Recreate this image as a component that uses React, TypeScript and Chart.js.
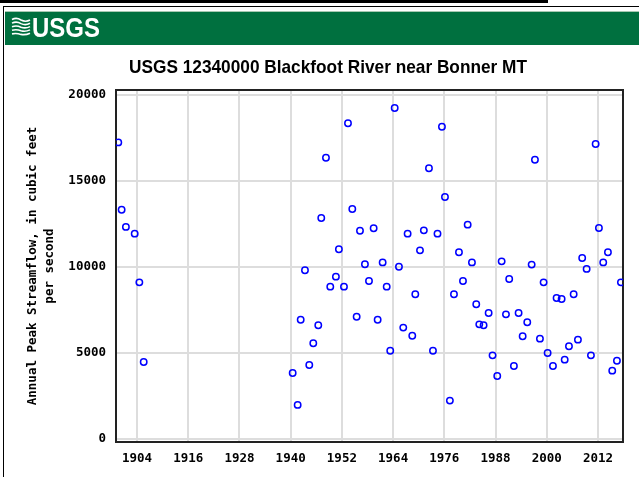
import React, { useEffect, useRef } from "react";
import { Chart, registerables } from "chart.js";

Chart.register(...registerables);

const chartTitle = "USGS 12340000 Blackfoot River near Bonner MT";
const logoText = "USGS";
const yTitleLines = ["Annual Peak Streamflow, in cubic feet", "per second"];
const xTickYears = [1904, 1916, 1928, 1940, 1952, 1964, 1976, 1988, 2000, 2012];
const yTickValues = [0, 5000, 10000, 15000, 20000];

const peakYears = [
  1899.62, 1900.4, 1901.4, 1903.46, 1904.55, 1905.57,
  1940.47, 1941.64, 1942.35, 1943.35, 1944.36, 1945.3, 1946.47, 1947.17, 1948.27, 1949.28,
  1950.6, 1951.3, 1952.49, 1953.43, 1954.44, 1955.46, 1956.24, 1957.4, 1958.35, 1959.44,
  1960.38, 1961.55, 1962.5, 1963.33, 1964.37, 1965.37, 1966.38, 1967.4, 1968.49, 1969.2,
  1970.3, 1971.2, 1972.4, 1973.34, 1974.4, 1975.44, 1976.15, 1977.3, 1978.26, 1979.43,
  1980.37, 1981.47, 1982.47, 1983.48, 1984.19, 1985.2, 1986.38, 1987.3, 1988.4, 1989.43,
  1990.44, 1991.2, 1992.3, 1993.4, 1994.35, 1995.43, 1996.46, 1997.23, 1998.4, 1999.26,
  2000.2, 2001.45, 2002.3, 2003.48, 2004.2, 2005.2, 2006.3, 2007.3, 2008.3, 2009.34,
  2010.35, 2011.45, 2012.22, 2013.23, 2014.33, 2015.34, 2016.44, 2017.37,
];

const peakFlows = [
  17230, 13320, 12320, 11930, 9100, 4470,
  3830, 1980, 6930, 9800, 4300, 5560, 6610, 12840, 16340, 8850,
  9430, 11020, 8850, 18340, 13360, 7100, 12100, 10150, 9180, 12240,
  6930, 10260, 8850, 5130, 19230, 10010, 6470, 11930, 6000, 8410,
  10960, 12120, 15730, 5130, 11930, 18140, 14060, 2230, 8410, 10850,
  9180, 12450, 10260, 7830, 6660, 6610, 7320, 4860, 3660, 10320,
  7240, 9290, 4240, 7320, 5970, 6780, 10130, 16220, 5830, 9100,
  5000, 4240, 8190, 8130, 4610, 5390, 8410, 5770, 10510, 9880,
  4860, 17140, 12260, 10260, 10850, 3970, 4550, 9100,
];

const MONO = '"DejaVu Sans Mono", "Liberation Mono", monospace';
const SANS = '"Liberation Sans", Arial, sans-serif';

const headerPlugin = {
  id: "usgsHeader",
  beforeDraw(chart: any) {
    const ctx = chart.ctx as CanvasRenderingContext2D;
    const W = chart.width;
    const H = chart.height;
    ctx.save();
    ctx.fillStyle = "#ffffff";
    ctx.fillRect(0, 0, W, H);
    // top black bar and thin frame
    ctx.fillStyle = "#000000";
    ctx.fillRect(0, 0, 548, 3);
    ctx.fillRect(3, 6, W - 3, 1);
    ctx.fillRect(3, 6, 1, H - 6);
    // green band
    ctx.fillStyle = "#a7c9b2";
    ctx.fillRect(5, 11, W - 5, 1);
    ctx.fillStyle = "#00703f";
    ctx.fillRect(5, 12, W - 5, 33);
    // logo waves
    ctx.strokeStyle = "#ffffff";
    ctx.lineWidth = 1.6;
    for (let i = 0; i < 5; i++) {
      const y0 = 19.5 + i * 3.6;
      ctx.beginPath();
      ctx.moveTo(12, y0);
      ctx.quadraticCurveTo(16.5, y0 - 2.5 + i * 0.4, 21, y0 + 0.5);
      ctx.quadraticCurveTo(25.5, y0 + 3 - i * 0.4, 30, y0 + 0.5 - i * 0.3);
      ctx.stroke();
    }
    // logo text
    ctx.fillStyle = "#ffffff";
    ctx.font = `bold 27px ${SANS}`;
    ctx.textBaseline = "alphabetic";
    ctx.textAlign = "left";
    const lw = ctx.measureText(logoText).width;
    ctx.save();
    ctx.translate(32, 37);
    ctx.scale(68 / lw, 1);
    ctx.fillText(logoText, 0, 0);
    ctx.restore();
    // chart title
    ctx.fillStyle = "#000000";
    ctx.font = `bold 18.5px ${SANS}`;
    const tw = ctx.measureText(chartTitle).width;
    ctx.save();
    ctx.translate(129, 73);
    ctx.scale(398 / tw, 1);
    ctx.fillText(chartTitle, 0, 0);
    ctx.restore();
    ctx.restore();
  },
  beforeDatasetsDraw(chart: any) {
    const ctx = chart.ctx as CanvasRenderingContext2D;
    const a = chart.chartArea;
    ctx.save();
    ctx.strokeStyle = "#222222";
    ctx.lineWidth = 2;
    ctx.strokeRect(a.left, a.top, a.right - a.left, a.bottom - a.top);
    ctx.restore();
  },
};

export default function App() {
  const ref = useRef<HTMLCanvasElement>(null);
  useEffect(() => {
    const canvas = ref.current;
    if (!canvas) return;
    const points = peakYears.map((yr, i) => ({ x: yr, y: peakFlows[i] }));
    const tickFont = { family: MONO, size: 12.5, weight: "bold" as const };
    const chart = new Chart(canvas, {
      type: "scatter",
      data: {
        datasets: [
          {
            data: points,
            showLine: false,
            pointStyle: "circle",
            pointRadius: 3.2,
            pointHoverRadius: 3.2,
            pointBorderWidth: 1.5,
            borderColor: "#0000ff",
            pointBorderColor: "#0000ff",
            backgroundColor: "rgba(0,0,0,0)",
            pointBackgroundColor: "rgba(0,0,0,0)",
          },
        ],
      },
      options: {
        responsive: false,
        animation: false,
        devicePixelRatio: 1,
        events: [],
        layout: { padding: { left: 0, right: 16, top: 90, bottom: 0 } },
        plugins: {
          legend: { display: false },
          tooltip: { enabled: false },
          title: { display: false },
        },
        scales: {
          x: {
            type: "linear",
            min: 1899.08,
            max: 2017.86,
            afterBuildTicks: (scale: any) => {
              scale.ticks = xTickYears.map((v) => ({ value: v }));
            },
            afterFit: (scale: any) => {
              scale.height = 35;
            },
            ticks: {
              padding: 9,
              color: "#000000",
              font: tickFont,
              maxRotation: 0,
              autoSkip: false,
              callback: (v: any) => String(v),
            },
            grid: { color: "#dddddd", lineWidth: 2, drawTicks: false },
            border: { display: false },
          },
          y: {
            type: "linear",
            min: -174,
            max: 20273,
            afterBuildTicks: (scale: any) => {
              scale.ticks = yTickValues.map((v) => ({ value: v }));
            },
            afterFit: (scale: any) => {
              scale.width = 116;
            },
            ticks: {
              padding: 10,
              color: "#000000",
              font: tickFont,
              autoSkip: false,
              callback: (v: any) => String(v),
            },
            grid: { color: "#dddddd", lineWidth: 2, drawTicks: false },
            border: { display: false },
            title: {
              display: true,
              text: yTitleLines,
              color: "#000000",
              font: { family: MONO, size: 12.5, weight: "bold", lineHeight: 17 / 12.5 },
              padding: { top: 24, bottom: 0 },
            },
          },
        },
      },
      plugins: [headerPlugin],
    });
    return () => chart.destroy();
  }, []);
  return (
    <div style={{ position: "absolute", left: 0, top: 0, width: 639, height: 477, background: "#ffffff" }}>
      <canvas ref={ref} width={639} height={477} style={{ display: "block", width: 639, height: 477 }} />
    </div>
  );
}
